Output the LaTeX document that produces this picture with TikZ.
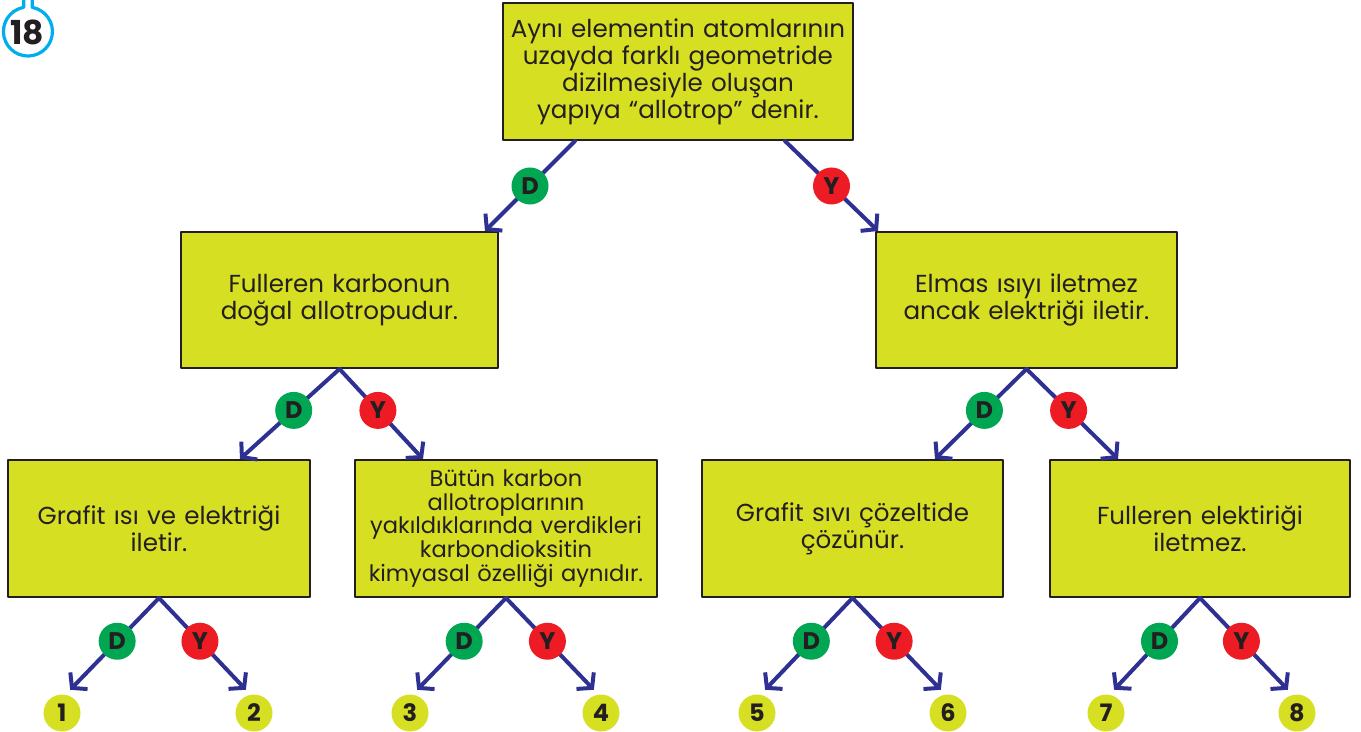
\documentclass[tikz,border=0pt]{standalone}
\usepackage{fontspec}
\setmainfont{Poppins}
\usetikzlibrary{arrows.meta}
\definecolor{kutusari}{HTML}{D7DF23}
\definecolor{oklacivert}{HTML}{2E3192}
\definecolor{dogruyesil}{HTML}{00A651}
\definecolor{yanliskirmizi}{HTML}{ED1C24}
\definecolor{yazi}{HTML}{231F20}
\definecolor{rozetmavi}{HTML}{00AEEF}
\tikzset{
	kutu/.style={draw=yazi, line width=1pt, fill=kutusari, text=yazi, align=center, minimum height=68.5pt, inner sep=2pt},
	ok/.style={draw=oklacivert, line width=2pt, -{Straight Barb[length=5pt,width=12pt]}},
	dd/.style={circle, fill=dogruyesil, text=yazi, font=\bfseries\fontsize{12}{12}\selectfont, minimum size=18.5pt, inner sep=0pt},
	yy/.style={dd, fill=yanliskirmizi},
	sayi/.style={circle, fill=kutusari, text=yazi, font=\bfseries\fontsize{12}{12}\selectfont, minimum size=18.5pt, inner sep=0pt}
}
\begin{document}
\begin{tikzpicture}[x=0.5pt, y=-0.5pt, font=\fontsize{12.3}{13.5}\selectfont, line join=round, line cap=round]
	\useasboundingbox (0,0) rectangle (1361,732);
	\draw[rozetmavi, line width=1.6pt] (32.2,0)--(32.2,7.4) arc[start angle=-80, end angle=260, radius=24.5]--(23.8,0);
	\node[text=yazi, font=\bfseries\fontsize{16.5}{16.5}\selectfont] (rozet) at (27,32) {18};
	
	\node[kutu, minimum width=175pt, text width=170pt] (ust) at (678,71.5) {Aynı elementin atomlarının\\uzayda farklı geometride\\dizilmesiyle oluşan\\yapıya “allotrop” denir.};
	\node[kutu, minimum width=158.5pt, minimum height=68pt, text width=150pt] (l1) at (339.5,300) {Fulleren karbonun\\doğal allotropudur.};
	\node[kutu, minimum width=150.5pt, minimum height=68pt, text width=145pt] (r1) at (1026.5,300) {Elmas ısıyı iletmez\\ancak elektriği iletir.};
	\node[kutu, minimum width=151pt, text width=145pt] (b1) at (159,528.5) {Grafit ısı ve elektriği\\iletir.};
	\node[kutu, minimum width=151pt, text width=147pt, font=\fontsize{11.3}{11.8}\selectfont] (b2) at (506,528.5) {Bütün karbon\\allotroplarının\\yakıldıklarında verdikleri\\karbondioksitin\\kimyasal özelliği aynıdır.};
	\node[kutu, minimum width=150.5pt, text width=145pt] (b3) at (852.5,528.5) {Grafit sıvı çözeltide\\çözünür.};
	\node[kutu, minimum width=150pt, text width=145pt] (b4) at (1200,528.5) {Fulleren elektiriği\\iletmez.};
	
	\draw[ok] (ust.south -| 575,0)--(l1.north -| 485,0) node[dd, pos=.5] {D};
	\draw[ok] (ust.south -| 785,0)--(r1.north -| 878,0) node[yy, pos=.5] {Y};
	\draw[ok] (l1.south)--(b1.north -| 240,0) node[dd, pos=.46] {D};
	\draw[ok] (l1.south)--(b2.north -| 423,0) node[yy, pos=.46] {Y};
	\draw[ok] (r1.south)--(b3.north -| 935,0) node[dd, pos=.46] {D};
	\draw[ok] (r1.south)--(b4.north -| 1118,0) node[yy, pos=.46] {Y};
	
	\foreach \i/\x in {1/62,2/254,3/410,4/601,5/757,6/948,7/1106,8/1297}
	\node[sayi] (n\i) at (\x,713) {\i};
	\foreach \k/\a/\b/\ax/\bx in {b1/1/2/66/250, b2/3/4/413/598, b3/5/6/761/945, b4/7/8/1110/1292}{
		\draw[ok, shorten >=3pt] (\k.south)--(n\a.north -| \ax,0) node[dd, pos=.45] {D};
		\draw[ok, shorten >=3pt] (\k.south)--(n\b.north -| \bx,0) node[yy, pos=.45] {Y};
	}
\end{tikzpicture}
\end{document}
